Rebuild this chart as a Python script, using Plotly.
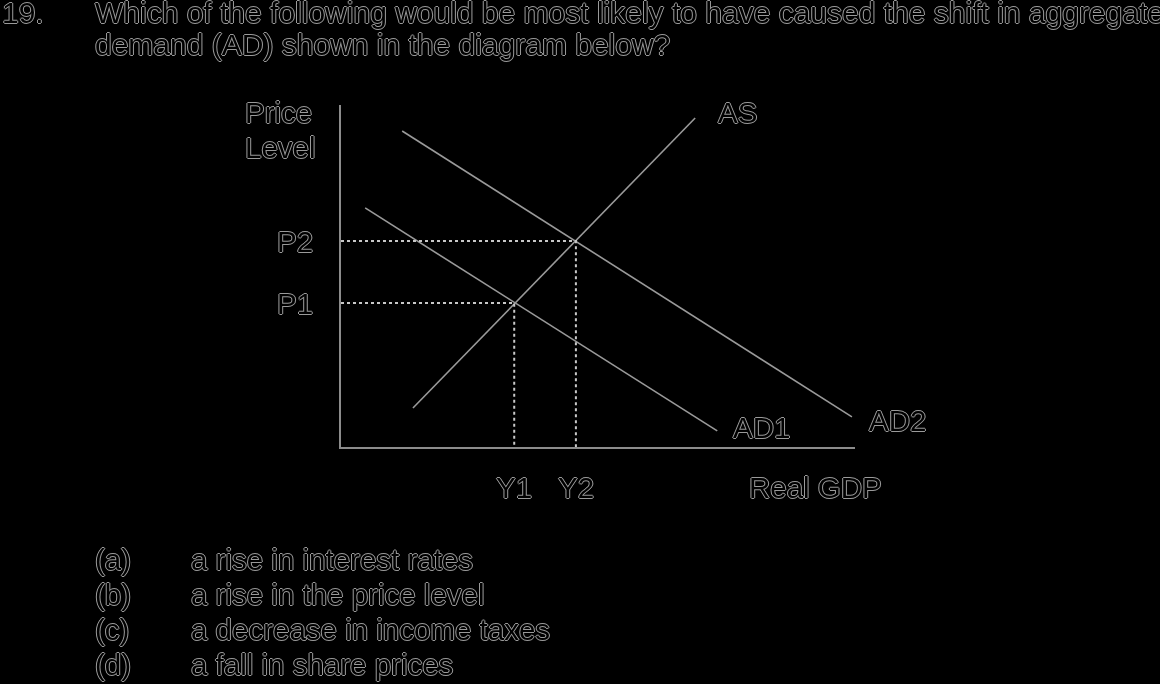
import plotly.graph_objects as go

W, H = 1160, 684

# ---- data (economic units: real GDP on x, price level on y) ----
as_q = [1.40, 6.89]
as_p = [1.14, 9.62]
ad1_q = [0.47, 7.32]
ad1_p = [6.99, 0.47]
ad2_q = [1.19, 9.94]
ad2_p = [9.24, 0.88]
y_levels = [3.37, 4.57]      # Y1, Y2
p_levels = [4.21, 6.02]      # P1, P2
y_labels = ["Y1", "Y2"]
p_labels = ["P1", "P2"]
curve_labels = ["AS", "AD1", "AD2"]

question_no = "19."
question_lines = [
    "Which of the following would be most likely to have caused the shift in aggregate",
    "demand (AD) shown in the diagram below?",
]
option_keys = ["(a)", "(b)", "(c)", "(d)"]
option_texts = [
    "a rise in interest rates",
    "a rise in the price level",
    "a decrease in income taxes",
    "a fall in share prices",
]

FONT = "Liberation Sans, Arial, Helvetica, sans-serif"
FS = 30
OUTLINE = "1px 0 0 #9a9a9a, -1px 0 0 #9a9a9a, 0 1px 0 #9a9a9a, 0 -1px 0 #9a9a9a"
TXT = dict(family=FONT, size=FS, color="#000000", shadow=OUTLINE)
TXT_S = dict(family=FONT, size=29.5, color="#000000", shadow=OUTLINE)
LINE_COLOR = "#9a9a9a"
DOT_COLOR = "#c8c8c8"


def px(x):
    return x / W


def py(y):
    return 1 - y / H


fig = go.Figure()

for q, p in [(as_q, as_p), (ad1_q, ad1_p), (ad2_q, ad2_p)]:
    fig.add_trace(go.Scatter(x=q, y=p, mode="lines",
                             line=dict(color=LINE_COLOR, width=1.6),
                             hoverinfo="skip", showlegend=False))

for yq, pp in zip(y_levels, p_levels):
    fig.add_trace(go.Scatter(x=[0, yq, yq], y=[pp, pp, 0], mode="lines",
                             line=dict(color=DOT_COLOR, width=2, dash="dot"),
                             hoverinfo="skip", showlegend=False))

ann = []
ann.append(dict(text=question_no, x=px(0), y=py(12), xref="paper", yref="paper",
                xanchor="left", yanchor="middle", showarrow=False, font=TXT))
for i, line in enumerate(question_lines):
    ann.append(dict(text=line, x=px(93), y=py(12 + 33 * i), xref="paper", yref="paper",
                    xanchor="left", yanchor="middle", showarrow=False, font=TXT))

ann.append(dict(text="Price", x=px(243), y=py(112), xref="paper", yref="paper",
                xanchor="left", yanchor="middle", showarrow=False, font=TXT_S))
ann.append(dict(text="Level", x=px(243), y=py(147), xref="paper", yref="paper",
                xanchor="left", yanchor="middle", showarrow=False, font=TXT_S))

for lab, pp in zip(p_labels, p_levels):
    ann.append(dict(text=lab, x=px(315), y=pp, xref="paper", yref="y",
                    xanchor="right", yanchor="middle", showarrow=False, font=TXT_S))
for lab, yq in zip(y_labels, y_levels):
    ann.append(dict(text=lab, x=yq, y=py(487), xref="x", yref="paper",
                    xanchor="center", yanchor="middle", showarrow=False, font=TXT_S))
ann.append(dict(text="Real GDP", x=px(815), y=py(487), xref="paper", yref="paper",
                xanchor="center", yanchor="middle", showarrow=False, font=TXT_S))

curve_label_pos = [(716, 112), (731, 427), (867, 420)]
for lab, (lx, ly) in zip(curve_labels, curve_label_pos):
    ann.append(dict(text=lab, x=px(lx), y=py(ly), xref="paper", yref="paper",
                    xanchor="left", yanchor="middle", showarrow=False, font=TXT_S))

for i, (k, t) in enumerate(zip(option_keys, option_texts)):
    yy = py(559 + 35 * i)
    ann.append(dict(text=k, x=px(93), y=yy, xref="paper", yref="paper",
                    xanchor="left", yanchor="middle", showarrow=False, font=TXT_S))
    ann.append(dict(text=t, x=px(189), y=yy, xref="paper", yref="paper",
                    xanchor="left", yanchor="middle", showarrow=False, font=TXT_S))

axis_common = dict(showgrid=False, zeroline=False, showticklabels=False, ticks="",
                   showline=True, linecolor="#8c8c8c", linewidth=2, fixedrange=True)

fig.update_layout(
    width=W, height=H,
    margin=dict(l=0, r=0, t=0, b=0),
    paper_bgcolor="#000000", plot_bgcolor="#000000",
    xaxis=dict(range=[0, 10], domain=[px(341), px(855)], **axis_common),
    yaxis=dict(range=[0, 10], domain=[py(447), py(105)], **axis_common),
    annotations=ann,
    showlegend=False,
)

post = (
    "document.documentElement.style.margin='0';"
    "document.body.style.margin='0';"
    "document.body.style.background='#000';"
    "document.querySelectorAll('.main-svg').forEach(function(s){"
    "s.style.willChange='transform';});"
)
fig.write_html("out.html", post_script=post, config={"displayModeBar": False})
